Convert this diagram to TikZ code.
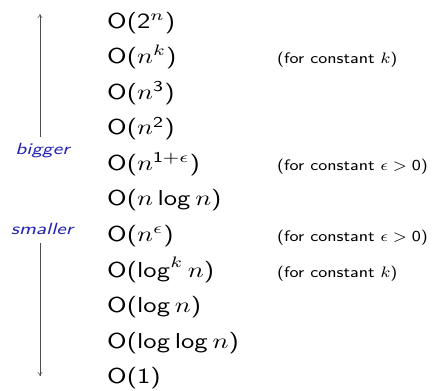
\documentclass[tikz,border=0pt]{standalone}
\usetikzlibrary{arrows.meta}
\renewcommand{\log}{\mathop{\mathsf{log}}\nolimits}
\newcommand{\dg}[1]{\mathsf{#1}}
\newcommand{\rowtxt}[1]{\scalebox{2.66}[2.16]{\fontsize{10}{12}\selectfont\sffamily #1}}
\newcommand{\notetxt}[1]{\scalebox{2.12}[1.9]{\fontsize{8}{10}\selectfont\sffamily #1}}
\newcommand{\sidetxt}[1]{\scalebox{2.3}[1.8]{\fontsize{9}{11}\selectfont\sffamily\itshape #1}}
\definecolor{lblue}{RGB}{35,35,180}
\tikzset{
  row/.style={anchor=base west, inner sep=0pt},
  note/.style={anchor=base west, inner sep=0pt},
  side/.style={inner sep=0pt, text=lblue},
  axis/.style={draw=black!70, line width=0.5pt, -{To[length=4pt,width=5pt]}}
}
\begin{document}
\begin{tikzpicture}[x=1pt,y=-1pt]
\useasboundingbox (0,0) rectangle (432,391);
\node[row] (r0) at (107,28.2) {\rowtxt{O($\dg{2}^n$)}};
\node[row] (r1) at (107,63.75) {\rowtxt{O($n^k$)}};
\node[row] (r2) at (107,99.3) {\rowtxt{O($n^{\dg{3}}$)}};
\node[row] (r3) at (107,134.85) {\rowtxt{O($n^{\dg{2}}$)}};
\node[row] (r4) at (107,170.4) {\rowtxt{O($n^{\dg{1}+\epsilon}$)}};
\node[row] (r5) at (107,205.95) {\rowtxt{O($n\log n$)}};
\node[row] (r6) at (107,241.5) {\rowtxt{O($n^{\epsilon}$)}};
\node[row] (r7) at (107,277.05) {\rowtxt{O($\log^k n$)}};
\node[row] (r8) at (107,312.6) {\rowtxt{O($\log n$)}};
\node[row] (r9) at (107,348.15) {\rowtxt{O($\log\log n$)}};
\node[row] (r10) at (107,383.7) {\rowtxt{O($\dg{1}$)}};
\node[note] (n1) at (277,63.75) {\notetxt{(for constant $k$)}};
\node[note] (n4) at (277,170.4) {\notetxt{(for constant $\epsilon>\dg{0}$)}};
\node[note] (n6) at (277,241.5) {\notetxt{(for constant $\epsilon>\dg{0}$)}};
\node[note] (n7) at (277,277.05) {\notetxt{(for constant $k$)}};
\node[side] (big) at (42.5,151) {\sidetxt{bigger}};
\node[side] (small) at (42,229) {\sidetxt{smaller}};
\coordinate (top) at (40,14);
\coordinate (bot) at (40,376);
\draw[axis] (40,137) -- (top);
\draw[axis] (40,243) -- (bot);
\end{tikzpicture}
\end{document}
